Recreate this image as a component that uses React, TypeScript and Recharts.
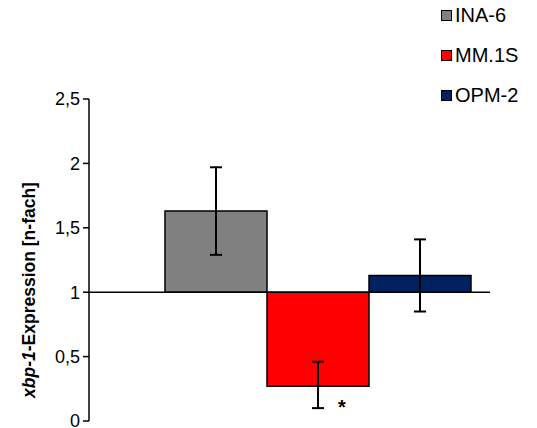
import React from 'react';
import {
  BarChart,
  Bar,
  XAxis,
  YAxis,
  ReferenceLine,
  Label,
} from 'recharts';

const cellLines = ['INA-6', 'MM.1S', 'OPM-2'];
const meanExpression = [1.63, 0.27, 1.13];
const errorLow = [1.29, 0.1, 0.85];
const errorHigh = [1.97, 0.46, 1.41];
const significance = ['', '*', ''];
const barColors = ['#808080', '#FF0000', '#002060'];
const yTicks = [0, 0.5, 1, 1.5, 2, 2.5];

const FONT = 'Arial, "Liberation Sans", sans-serif';
const BASELINE = 1;

// one row, one key per cell line (bars grow up or down from 1)
const row: Record<string, any> = { name: 'xbp-1' };
cellLines.forEach((c, i) => {
  row[c] = [Math.min(BASELINE, meanExpression[i]), Math.max(BASELINE, meanExpression[i])];
  row[c + '_err'] = [errorLow[i], errorHigh[i]];
});
const data = [row];

const fmt = (v: number) => String(v).replace('.', ',');

const ErrorShape = (sig: string) => (props: any) => {
  const { x, y, width, height } = props;
  const cx = x + width / 2;
  const bottom = y + height;
  return (
    <g>
      <line x1={cx} x2={cx} y1={y} y2={bottom} stroke="#000" strokeWidth={2} />
      <line x1={cx - 6} x2={cx + 6} y1={y} y2={y} stroke="#000" strokeWidth={2} />
      <line x1={cx - 6} x2={cx + 6} y1={bottom} y2={bottom} stroke="#000" strokeWidth={2} />
      {sig && (
        <text x={cx + 24} y={bottom + 6} textAnchor="middle" fontFamily={FONT} fontSize={20} fontWeight="bold">
          {sig}
        </text>
      )}
    </g>
  );
};

// legend kept outside the chart so it does not shrink the plot area
const SideLegend = () => (
  <div
    style={{
      position: 'absolute',
      left: 441,
      top: -5,
      fontFamily: FONT,
      fontSize: 20,
      color: '#000',
      lineHeight: 1,
    }}
  >
    {cellLines.map((c, i) => (
      <div key={c} style={{ display: 'flex', alignItems: 'center', height: 40 }}>
        <span
          style={{
            display: 'inline-block',
            width: 9,
            height: 9,
            background: barColors[i],
            border: '1px solid #000',
            marginRight: 3,
          }}
        />
        {c}
      </div>
    ))}
  </div>
);

const YTitle = (props: any) => {
  const { viewBox } = props;
  const cx = viewBox.x + 29;
  const cy = viewBox.y + viewBox.height / 2 + 30;
  return (
    <text
      x={cx}
      y={cy}
      transform={`rotate(-90, ${cx}, ${cy})`}
      textAnchor="middle"
      dominantBaseline="central"
      fontFamily={FONT}
      fontSize={17.5}
      fontWeight="bold"
    >
      <tspan fontStyle="italic">xbp-1</tspan>
      <tspan>-Expression [n-fach]</tspan>
    </text>
  );
};

export default function App() {
  return (
    <div style={{ position: 'absolute', left: 0, top: 0, width: 537, height: 428, background: '#fff' }}>
      <BarChart
        width={537}
        height={428}
        data={data}
        margin={{ top: 99, right: 47, bottom: 7, left: 0 }}
        barCategoryGap={0}
        barGap={0}
      >
        <XAxis dataKey="name" hide padding={{ left: 76, right: 19 }} />
        <XAxis dataKey="name" xAxisId="err" hide padding={{ left: 76, right: 19 }} />
        <YAxis
          width={89}
          domain={[0, 2.5]}
          ticks={yTicks}
          tickFormatter={fmt}
          interval={0}
          axisLine={{ stroke: '#000', strokeWidth: 1.5 }}
          tickLine={{ stroke: '#000', strokeWidth: 1.5 }}
          tickSize={6}
          tickMargin={3}
          tick={{ fill: '#000', fontSize: 18, fontFamily: FONT }}
        >
          <Label content={YTitle} />
        </YAxis>
        <ReferenceLine y={BASELINE} stroke="#000" strokeWidth={1.5} />
        {cellLines.map((c, i) => (
          <Bar
            key={c}
            dataKey={c}
            name={c}
            fill={barColors[i]}
            stroke="#000"
            strokeWidth={1.5}
            isAnimationActive={false}
          />
        ))}
        {cellLines.map((c, i) => (
          <Bar
            key={c + '_err'}
            xAxisId="err"
            dataKey={c + '_err'}
            fill="none"
            legendType="none"
            shape={ErrorShape(significance[i])}
            isAnimationActive={false}
          />
        ))}
      </BarChart>
      <SideLegend />
    </div>
  );
}
